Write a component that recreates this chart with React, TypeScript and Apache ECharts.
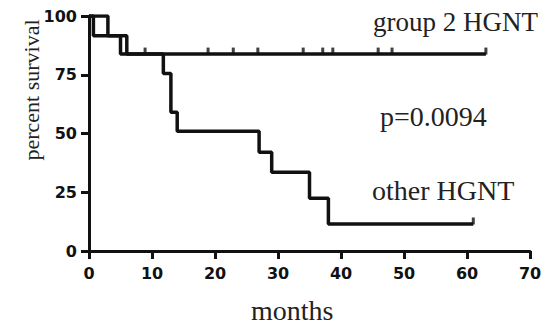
import React, { useEffect, useRef } from "react";
import * as echarts from "echarts";

// Kaplan-Meier steps: [month, percent survival]
const group2Steps: [number, number][] = [
  [0, 100],
  [0.7, 91.6],
  [6, 83.8],
  [63, 83.8],
];
const otherSteps: [number, number][] = [
  [0, 100],
  [3, 91.6],
  [5, 83.8],
  [11.8, 75.5],
  [13, 59],
  [14, 51],
  [27, 42],
  [29, 33.5],
  [35, 22.5],
  [38, 11.5],
  [61, 11.5],
];
const group2Censored: number[] = [8.9, 18.9, 22.9, 26.8, 34, 37.1, 38.7, 45.9, 48.1, 63];
const group2CensorLevel = 83.8;
const otherCensored: number[] = [61];
const otherCensorLevel = 11.5;

const xTicks = { min: 0, max: 70, interval: 10 };
const yTicks = { min: 0, max: 100, interval: 25 };

const labelGroup2 = "group 2 HGNT";
const labelP = "p=0.0094";
const labelOther = "other HGNT";
const xName = "months";
const yName = "percent survival";

export default function App() {
  const ref = useRef<HTMLDivElement>(null);
  useEffect(() => {
    if (!ref.current) return;
    const chart = echarts.init(ref.current, null, { renderer: "svg" });
    const ink = "#111";
    const serif = "'Liberation Serif', 'Times New Roman', serif";
    const axisCommon = {
      axisLine: { show: true, onZero: false, lineStyle: { color: ink, width: 3 } },
      axisTick: { show: true, length: 8, lineStyle: { color: ink, width: 3 } },
      splitLine: { show: false },
      axisLabel: {
        color: ink,
        fontFamily: "'DejaVu Sans', sans-serif",
        fontWeight: "bold" as const,
        fontSize: 16,
      },
    };
    const censorSeries = (xs: number[], level: number) => ({
      type: "scatter" as const,
      data: xs.map((x) => [x, level]),
      symbol: "rect",
      symbolSize: [3, 7],
      symbolOffset: [0, -3],
      itemStyle: { color: ink },
      silent: true,
      z: 4,
    });
    chart.setOption({
      animation: false,
      backgroundColor: "#fff",
      grid: { left: 89, right: 25, top: 16, bottom: 75, containLabel: false },
      xAxis: {
        type: "value",
        ...xTicks,
        ...axisCommon,
        axisLabel: { ...axisCommon.axisLabel, margin: 14 },
      },
      yAxis: {
        type: "value",
        ...yTicks,
        ...axisCommon,
        axisLabel: { ...axisCommon.axisLabel, margin: 12 },
      },
      series: [
        {
          type: "line",
          step: "end",
          data: group2Steps,
          showSymbol: false,
          lineStyle: { color: ink, width: 3.5 },
          z: 3,
        },
        {
          type: "line",
          step: "end",
          data: otherSteps,
          showSymbol: false,
          lineStyle: { color: ink, width: 3.5 },
          z: 3,
        },
        censorSeries(group2Censored, group2CensorLevel),
        censorSeries(otherCensored, otherCensorLevel),
      ],
      graphic: [
        {
          type: "text",
          left: 373,
          top: 8,
          style: { text: labelGroup2, font: `27px ${serif}`, fill: "#222" },
        },
        {
          type: "text",
          left: 380,
          top: 102,
          style: { text: labelP, font: `28px ${serif}`, fill: "#222" },
        },
        {
          type: "text",
          left: 372,
          top: 176,
          style: { text: labelOther, font: `28px ${serif}`, fill: "#222" },
        },
        {
          type: "text",
          left: 251,
          top: 296,
          style: { text: xName, font: `28px ${serif}`, fill: "#222" },
        },
        {
          type: "text",
          x: 31,
          y: 90,
          rotation: Math.PI / 2,
          style: {
            text: yName,
            font: `22px ${serif}`,
            fill: "#222",
            align: "center",
            verticalAlign: "middle",
          },
        },
      ],
    });
    return () => chart.dispose();
  }, []);
  return (
    <div
      ref={ref}
      style={{ position: "absolute", left: 0, top: 0, width: 555, height: 326 }}
    />
  );
}
